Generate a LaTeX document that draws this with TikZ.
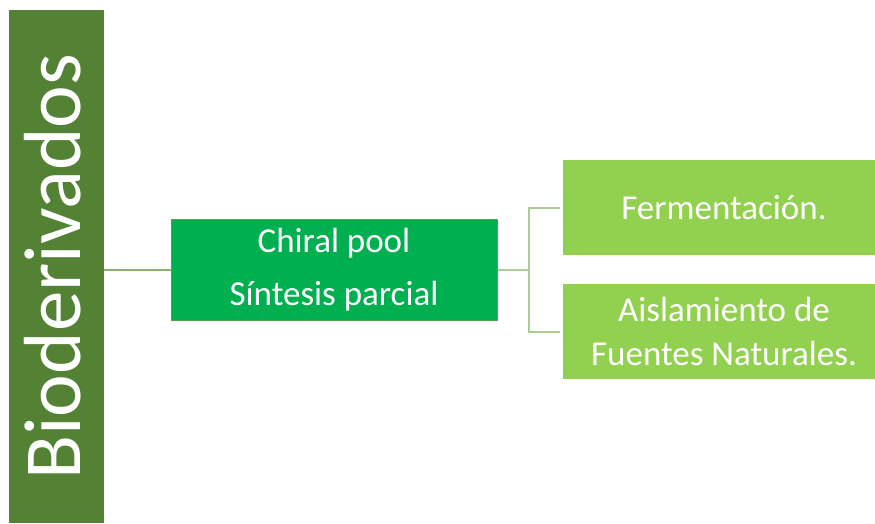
\documentclass[tikz,border=0pt]{standalone}
\usepackage{fontspec}
\setmainfont{Carlito}
\usetikzlibrary{positioning}

\definecolor{barGreen}{HTML}{548235}
\definecolor{hubGreen}{HTML}{00B050}
\definecolor{hubEdge}{HTML}{4EA64A}
\definecolor{leafGreen}{HTML}{92D050}
\definecolor{stemGreen}{HTML}{8CB56C}
\definecolor{forkGreen}{HTML}{A9CF98}

\tikzset{
  catbar/.style={fill=barGreen, draw=none, inner sep=0pt, anchor=north west,
    minimum width=95pt, minimum height=513pt},
  cattext/.style={text=white, rotate=90, inner sep=0pt,
    font=\fontsize{81}{90}\selectfont},
  hubbox/.style={fill=hubGreen, draw=hubEdge, line width=1pt, text=white,
    minimum width=326pt, minimum height=101pt, align=center,
    font=\fontsize{35}{53}\selectfont},
  leafbox/.style={fill=leafGreen, draw=none, text=white,
    minimum width=322pt, minimum height=95pt, align=center,
    font=\fontsize{35}{44}\selectfont},
  stem/.style={draw=stemGreen, line width=2pt},
  fork/.style={draw=forkGreen, line width=2pt},
}

\begin{document}
\begin{tikzpicture}[x=1pt,y=-1pt]
  \useasboundingbox (0,0) rectangle (875,523);
  % titelbalken links
  \node[catbar] (bio) at (9,10) {};
  \node[cattext] (biotext) at ([xshift=-4pt]bio.center) {Bioderivados};
  % mittlere box
  \node[hubbox] (hub) at (334,269.5) {Chiral pool\\Síntesis parcial};
  % rechte boxen
  \node[leafbox] (ferm) at (724,207.5) {Fermentación.};
  \node[leafbox] (aisl) at (724,331.5) {Aislamiento de\\Fuentes Naturales.};
  % verbindungen
  \draw[stem] (hub.west) -- (hub.west -| bio.east);
  \coordinate[right=31pt of hub.east] (split);
  \draw[fork] (hub.east) -- (split);
  \draw[fork, shorten >=3pt] (split) |- (ferm.west);
  \draw[fork, shorten >=3pt] (split) |- (aisl.west);
\end{tikzpicture}
\end{document}
